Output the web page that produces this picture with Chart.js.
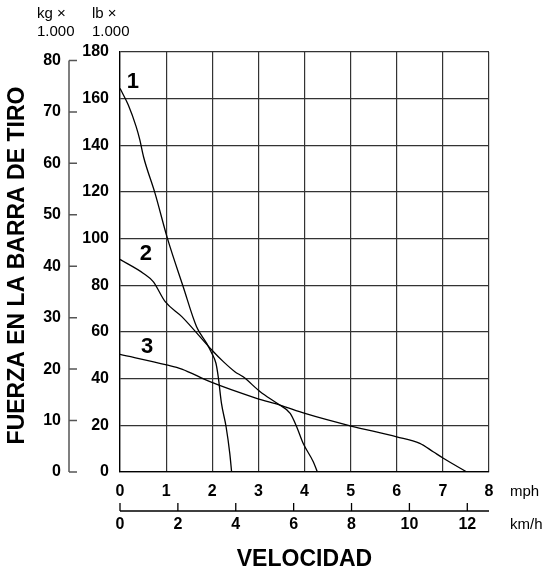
<!DOCTYPE html>
<html>
<head>
<meta charset="utf-8">
<script src="https://cdn.jsdelivr.net/npm/chart.js@4.4.1/dist/chart.umd.min.js"></script>
<style>
  html, body { margin: 0; padding: 0; background: #fff; }
  #wrap { width: 546px; height: 575px; }
</style>
</head>
<body>
<div id="wrap"><canvas id="pullChart" width="546" height="575"></canvas></div>
<script>
/* drawbar pull vs speed */
const mphTicks = [0, 1, 2, 3, 4, 5, 6, 7, 8];
const lbTicks = [0, 20, 40, 60, 80, 100, 120, 140, 160, 180];
const kgTicks = [0, 10, 20, 30, 40, 50, 60, 70, 80];
const kmhTicks = [0, 2, 4, 6, 8, 10, 12];

const curve1Mph = [0, 0.18, 0.35, 0.43, 0.51, 0.76, 1.03, 1.37, 1.66, 1.88, 1.99, 2.08, 2.13, 2.20, 2.30, 2.38, 2.42];
const curve1Lb = [164.4, 157.3, 148, 142.3, 135.1, 119.4, 100, 79.4, 62.3, 55.1, 50.9, 46.6, 40.8, 29.4, 19.4, 8.0, 0];
const curve2Mph = [0, 0.51, 0.72, 0.98, 1.34, 1.99, 2.24, 2.49, 2.67, 3.04, 3.43, 3.69, 3.83, 3.97, 4.19, 4.28];
const curve2Lb = [91.1, 85.1, 81.6, 73.0, 66.6, 52.3, 47.3, 43.0, 40.8, 34.4, 29.1, 25.1, 19.4, 12.3, 4.4, 0];
const curve3Mph = [0, 1.01, 1.34, 1.95, 2.96, 3.47, 4.01, 5.01, 6.0, 6.50, 6.79, 7.01, 7.52];
const curve3Lb = [50.4, 45.9, 44.1, 38.7, 31.6, 28.7, 25.1, 19.7, 15.1, 12.3, 8.7, 5.9, 0];

const curveNames = ["1", "2", "3"];
const curveLabelMph = [0.28, 0.56, 0.59];
const curveLabelLb = [167, 93.4, 53.6];

const NARROW = '"Liberation Sans Narrow", "Arial Narrow", "Liberation Sans", sans-serif';
const SANS = '"Liberation Sans", Arial, sans-serif';
const LB_PER_KG = 2.20462;

(function () {
  const toPoints = (xs, ys) => xs.map((v, i) => ({ x: v, y: ys[i] }));
  const lineStyle = { showLine: true, borderColor: "#000", borderWidth: 1.3, pointRadius: 0, cubicInterpolationMode: "monotone", fill: false };

  const extras = {
    id: "extras",
    afterDraw(chart) {
      const { ctx, scales: { x, xKm, yKg } } = chart;
      ctx.save();
      ctx.fillStyle = "#000";

      // kg axis, left of the lb labels
      const kgX = 69;
      ctx.strokeStyle = "#555";
      ctx.lineWidth = 1.5;
      ctx.beginPath();
      ctx.moveTo(kgX, yKg.getPixelForValue(0));
      ctx.lineTo(kgX, yKg.getPixelForValue(kgTicks[kgTicks.length - 1]));
      kgTicks.forEach(v => {
        const py = yKg.getPixelForValue(v);
        ctx.moveTo(kgX, py);
        ctx.lineTo(kgX + 8, py);
      });
      ctx.stroke();
      ctx.font = `bold 16px ${NARROW}`;
      ctx.textAlign = "right";
      ctx.textBaseline = "middle";
      kgTicks.forEach(v => ctx.fillText(String(v), 61, yKg.getPixelForValue(v)));

      // km/h axis under the mph labels
      const kmY = 511;
      ctx.strokeStyle = "#000";
      ctx.lineWidth = 1.3;
      ctx.beginPath();
      ctx.moveTo(xKm.getPixelForValue(0), kmY);
      ctx.lineTo(x.right, kmY);
      kmhTicks.forEach(v => {
        const px = xKm.getPixelForValue(v);
        ctx.moveTo(px, kmY - 8);
        ctx.lineTo(px, kmY);
      });
      ctx.stroke();
      ctx.textAlign = "center";
      kmhTicks.forEach(v => ctx.fillText(String(v), xKm.getPixelForValue(v), kmY + 14));

      // units
      ctx.font = `15px ${SANS}`;
      ctx.textAlign = "left";
      ctx.fillText("mph", 510, 492);
      ctx.fillText("km/h", 510, 525);
      ctx.fillText("kg \u00d7", 37, 14);
      ctx.fillText("1.000", 37, 32);
      ctx.fillText("lb \u00d7", 92, 14);
      ctx.fillText("1.000", 92, 32);

      // titles
      ctx.font = `bold 23px ${SANS}`;
      ctx.textAlign = "center";
      ctx.fillText("VELOCIDAD", (x.left + x.right) / 2, 560);
      ctx.save();
      ctx.translate(18, 265.5);
      ctx.rotate(-Math.PI / 2);
      ctx.fillText("FUERZA EN LA BARRA DE TIRO", 0, 0);
      ctx.restore();

      // curve numbers
      const { y } = chart.scales;
      ctx.font = `bold 22px ${SANS}`;
      curveNames.forEach((n, i) => ctx.fillText(n, x.getPixelForValue(curveLabelMph[i]), y.getPixelForValue(curveLabelLb[i])));
      ctx.restore();
    }
  };

  const tickFont = { family: NARROW, size: 16, weight: "bold" };
  const grid = { color: "#333", lineWidth: 1.2, drawTicks: false };

  new Chart(document.getElementById("pullChart"), {
    type: "scatter",
    data: {
      datasets: [
        { label: "1", data: toPoints(curve1Mph, curve1Lb), ...lineStyle },
        { label: "2", data: toPoints(curve2Mph, curve2Lb), ...lineStyle },
        { label: "3", data: toPoints(curve3Mph, curve3Lb), ...lineStyle }
      ]
    },
    options: {
      responsive: false,
      animation: false,
      layout: { padding: { left: 70, top: 52, right: 57, bottom: 73 } },
      plugins: { legend: { display: false }, tooltip: { enabled: false } },
      scales: {
        x: {
          type: "linear", position: "bottom", min: 0, max: 8,
          afterBuildTicks: s => { s.ticks = mphTicks.map(v => ({ value: v })); },
          afterFit: s => { s.height = 30; },
          ticks: { font: tickFont, color: "#000", padding: 10, maxRotation: 0 },
          grid, border: { color: "#000", width: 1.3 }
        },
        y: {
          type: "linear", position: "left", min: 0, max: 180,
          afterBuildTicks: s => { s.ticks = lbTicks.map(v => ({ value: v })); },
          afterFit: s => { s.width = 50; },
          ticks: { font: tickFont, color: "#000", padding: 11 },
          grid, border: { color: "#000", width: 1.3 }
        },
        xKm: { type: "linear", position: "bottom", display: false, min: 0, max: 12.75 },
        yKg: { type: "linear", position: "left", display: false, min: 0, max: 180 / LB_PER_KG }
      }
    },
    plugins: [extras]
  });
})();
</script>
</body>
</html>
